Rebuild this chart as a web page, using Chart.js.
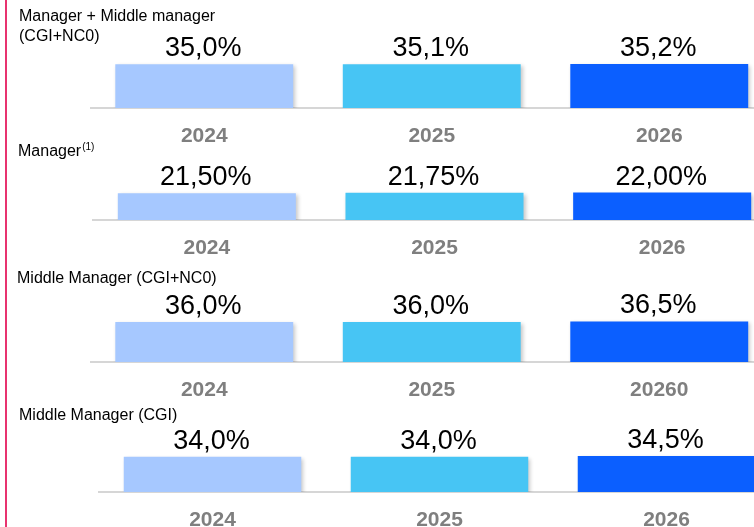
<!DOCTYPE html>
<html>
<head>
<meta charset="utf-8">
<script src="https://cdn.jsdelivr.net/npm/chart.js@4.4.1/dist/chart.umd.min.js"></script>
<style>
    html, body { margin: 0; padding: 0; background: #fff; overflow: hidden; }
    #wrap { position: relative; width: 754px; height: 527px; overflow: hidden; }
    #wrap canvas { position: absolute; left: 0; }
    #edge { position: absolute; left: 5px; top: 0; width: 2px; height: 527px; background: #e8336f; }
</style>
</head>
<body>
<div id="wrap">
    <div id="edge"></div>
</div>
<script>
const years = ['2024', '2025', '2026']
const yearsMiddle = ['2024', '2025', '20260']
const barColors = ['#a6c8ff', '#47c5f4', '#0b5fff']

// Rates per year
const managerMiddle = [35.0, 35.1, 35.2]
const manager = [21.50, 21.75, 22.00]
const middleCgiNc0 = [36.0, 36.0, 36.5]
const middleCgi = [34.0, 34.0, 34.5]

const FONT = '"Liberation Sans", Arial, sans-serif'

const panels = [
    { title: ['Manager + Middle manager', '(CGI+NC0)'], titleY: [20.5, 40.5], titleX: 19, data: managerMiddle, labels: years, decimals: 1,
      top: 0, height: 160, left: 90.5, step: 227.5, bottom: 108, pxPer: 1.25 },
    { title: ['Manager'], sup: '(1)', titleY: [15.5], titleX: 18, data: manager, labels: years, decimals: 2,
      top: 140, height: 150, left: 93, step: 227.4, bottom: 80, pxPer: 1.25 },
    { title: ['Middle Manager (CGI+NC0)'], titleY: [12.7], titleX: 17, data: middleCgiNc0, labels: yearsMiddle, decimals: 1,
      top: 270, height: 150, left: 90.5, step: 227.5, bottom: 92, pxPer: 1.11 },
    { title: ['Middle Manager (CGI)'], titleY: [20], titleX: 19, data: middleCgi, labels: years, decimals: 1,
      top: 400, height: 147, left: 99, step: 227, bottom: 92, pxPer: 1.04 }
]

// soft drop shadow under the bars
const barShadow = {
    id: 'barShadow',
    beforeDatasetsDraw(chart) {
        const ctx = chart.ctx
        ctx.save()
        ctx.shadowColor = 'rgba(0, 0, 0, 0.22)'
        ctx.shadowBlur = 4
        ctx.shadowOffsetX = 2
        ctx.shadowOffsetY = 2
    },
    afterDatasetsDraw(chart) {
        chart.ctx.restore()
    }
}

// percentage above each bar, comma as decimal separator
const valueLabels = {
    id: 'valueLabels',
    afterDraw(chart, args, opts) {
        const ctx = chart.ctx
        const meta = chart.getDatasetMeta(0)
        ctx.save()
        ctx.font = '27px ' + FONT
        ctx.fillStyle = '#000'
        ctx.textAlign = 'center'
        ctx.textBaseline = 'alphabetic'
        meta.data.forEach((bar, i) => {
            const v = chart.data.datasets[0].data[i]
            ctx.fillText(v.toFixed(opts.decimals).replace('.', ',') + '%', bar.x - 1, bar.y - 8)
        })
        ctx.restore()
    }
}

// panel heading in the top left corner
const panelTitle = {
    id: 'panelTitle',
    afterDraw(chart, args, opts) {
        const ctx = chart.ctx
        ctx.save()
        ctx.fillStyle = '#000'
        ctx.textAlign = 'left'
        ctx.textBaseline = 'alphabetic'
        ctx.font = '16px ' + FONT
        opts.lines.forEach((line, i) => ctx.fillText(line, opts.x, opts.y[i]))
        if (opts.sup) {
            const w = ctx.measureText(opts.lines[0]).width
            ctx.font = '10px ' + FONT
            ctx.fillText(opts.sup, opts.x + w + 1, opts.y[0] - 6)
        }
        ctx.restore()
    }
}

panels.forEach((p) => {
    const canvas = document.createElement('canvas')
    canvas.width = Math.ceil(p.left + p.step * 3)
    canvas.height = p.height
    canvas.style.top = p.top + 'px'
    document.getElementById('wrap').appendChild(canvas)

    new Chart(canvas.getContext('2d'), {
        type: 'bar',
        data: {
            labels: p.labels,
            datasets: [{
                data: p.data,
                backgroundColor: barColors,
                borderWidth: 0,
                categoryPercentage: 1,
                barPercentage: 0.782
            }]
        },
        options: {
            responsive: false,
            animation: false,
            layout: { padding: { left: p.left, top: 0, right: 0, bottom: 0 } },
            scales: {
                x: {
                    grid: { display: false, drawTicks: false },
                    border: { display: true, color: '#d6d6d6', width: 2 },
                    ticks: {
                        color: '#7f7f7f',
                        padding: 16,
                        font: { family: FONT, size: 21, weight: 'bold' }
                    },
                    afterFit: (scale) => { scale.height = p.height - p.bottom }
                },
                y: {
                    display: false,
                    min: 0,
                    max: p.bottom / p.pxPer
                }
            },
            plugins: {
                legend: { display: false },
                tooltip: { enabled: false },
                valueLabels: { decimals: p.decimals },
                panelTitle: { lines: p.title, x: p.titleX, y: p.titleY, sup: p.sup }
            }
        },
        plugins: [barShadow, valueLabels, panelTitle]
    })
})
</script>
</body>
</html>
